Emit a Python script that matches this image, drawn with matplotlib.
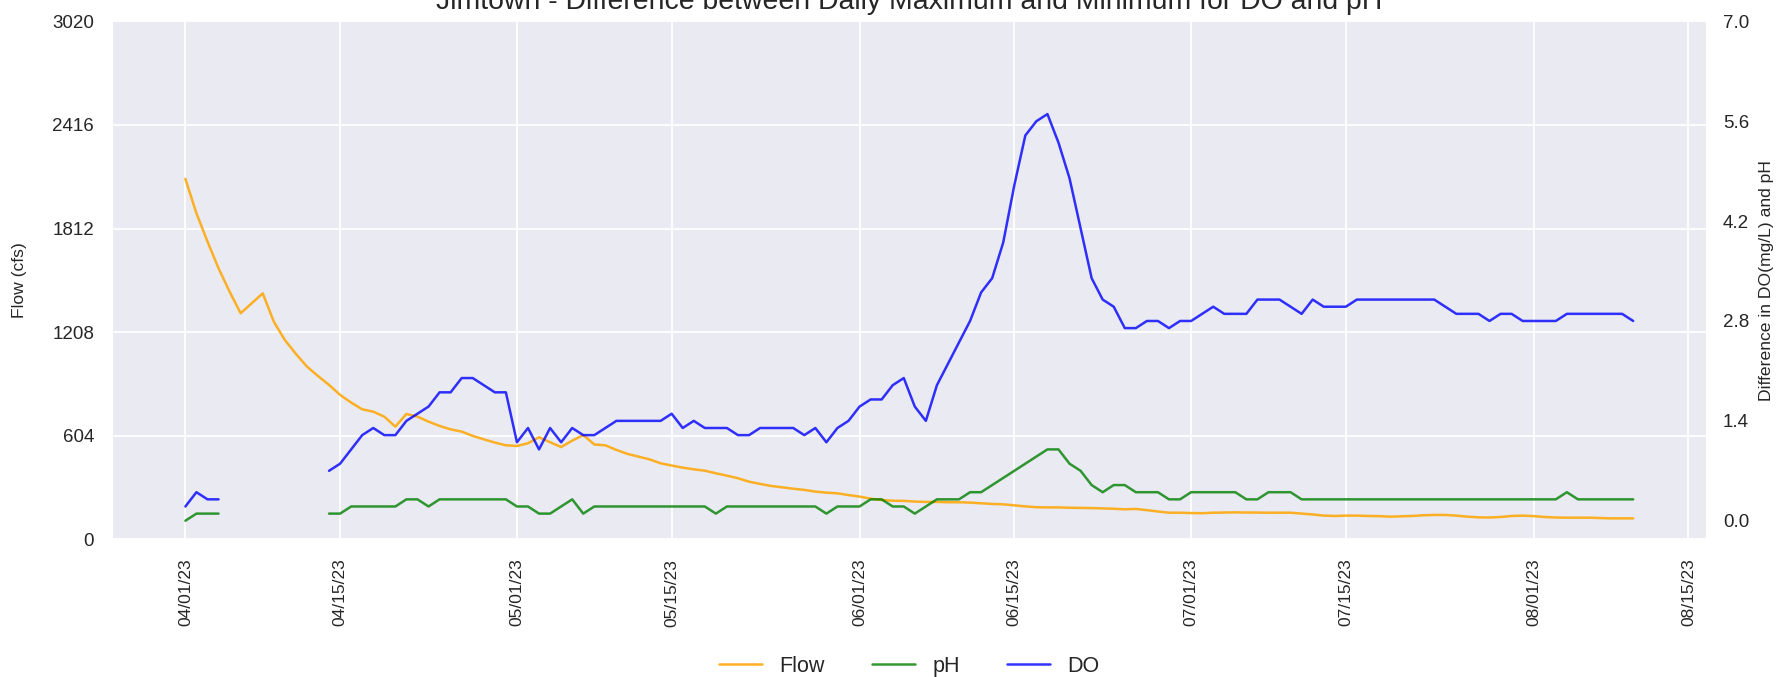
import numpy as np
import pandas as pd
import matplotlib
matplotlib.use('Agg')
import matplotlib.pyplot as plt
import matplotlib.dates as mdates

nan = np.nan

# daily values from 04/01/23
start_date = '2023-04-01'

flow = [2101, 1901, 1736, 1580, 1444, 1318, 1376, 1434, 1269, 1162,
        1081, 1007, 952, 900, 842, 797, 758, 744, 715, 657,
        731, 715, 686, 661, 641, 628, 603, 583, 564, 548,
        544, 560, 595, 566, 538, 575, 608, 553, 548, 521,
        498, 482, 466, 443, 430, 418, 408, 400, 385, 371,
        356, 336, 323, 311, 303, 295, 288, 278, 272, 268,
        258, 249, 237, 229, 225, 224, 220, 218, 218, 216,
        216, 214, 210, 206, 204, 198, 192, 187, 186, 186,
        184, 183, 182, 180, 178, 175, 177, 170, 162, 155,
        155, 153, 152, 155, 156, 157, 156, 156, 155, 155,
        155, 150, 145, 138, 136, 138, 138, 136, 135, 132,
        134, 136, 140, 142, 142, 138, 132, 128, 127, 130,
        136, 138, 135, 130, 127, 126, 126, 126, 124, 122,
        122, 122]

do_diff = [0.2, 0.4, 0.3, 0.3, nan, nan, nan, nan, nan, nan,
           nan, nan, nan, 0.7, 0.8, 1.0, 1.2, 1.3, 1.2, 1.2,
           1.4, 1.5, 1.6, 1.8, 1.8, 2.0, 2.0, 1.9, 1.8, 1.8,
           1.1, 1.3, 1.0, 1.3, 1.1, 1.3, 1.2, 1.2, 1.3, 1.4,
           1.4, 1.4, 1.4, 1.4, 1.5, 1.3, 1.4, 1.3, 1.3, 1.3,
           1.2, 1.2, 1.3, 1.3, 1.3, 1.3, 1.2, 1.3, 1.1, 1.3,
           1.4, 1.6, 1.7, 1.7, 1.9, 2.0, 1.6, 1.4, 1.9, 2.2,
           2.5, 2.8, 3.2, 3.4, 3.9, 4.7, 5.4, 5.6, 5.7, 5.3,
           4.8, 4.1, 3.4, 3.1, 3.0, 2.7, 2.7, 2.8, 2.8, 2.7,
           2.8, 2.8, 2.9, 3.0, 2.9, 2.9, 2.9, 3.1, 3.1, 3.1,
           3.0, 2.9, 3.1, 3.0, 3.0, 3.0, 3.1, 3.1, 3.1, 3.1,
           3.1, 3.1, 3.1, 3.1, 3.0, 2.9, 2.9, 2.9, 2.8, 2.9,
           2.9, 2.8, 2.8, 2.8, 2.8, 2.9, 2.9, 2.9, 2.9, 2.9,
           2.9, 2.8]

ph_diff = [0.0, 0.1, 0.1, 0.1, nan, nan, nan, nan, nan, nan,
           nan, nan, nan, 0.1, 0.1, 0.2, 0.2, 0.2, 0.2, 0.2,
           0.3, 0.3, 0.2, 0.3, 0.3, 0.3, 0.3, 0.3, 0.3, 0.3,
           0.2, 0.2, 0.1, 0.1, 0.2, 0.3, 0.1, 0.2, 0.2, 0.2,
           0.2, 0.2, 0.2, 0.2, 0.2, 0.2, 0.2, 0.2, 0.1, 0.2,
           0.2, 0.2, 0.2, 0.2, 0.2, 0.2, 0.2, 0.2, 0.1, 0.2,
           0.2, 0.2, 0.3, 0.3, 0.2, 0.2, 0.1, 0.2, 0.3, 0.3,
           0.3, 0.4, 0.4, 0.5, 0.6, 0.7, 0.8, 0.9, 1.0, 1.0,
           0.8, 0.7, 0.5, 0.4, 0.5, 0.5, 0.4, 0.4, 0.4, 0.3,
           0.3, 0.4, 0.4, 0.4, 0.4, 0.4, 0.3, 0.3, 0.4, 0.4,
           0.4, 0.3, 0.3, 0.3, 0.3, 0.3, 0.3, 0.3, 0.3, 0.3,
           0.3, 0.3, 0.3, 0.3, 0.3, 0.3, 0.3, 0.3, 0.3, 0.3,
           0.3, 0.3, 0.3, 0.3, 0.3, 0.4, 0.3, 0.3, 0.3, 0.3,
           0.3, 0.3]

dates = pd.date_range(start_date, periods=len(flow), freq='D')

plt.style.use('seaborn-v0_8-darkgrid')
plt.rcParams['font.family'] = ['Liberation Sans', 'DejaVu Sans']
plt.rcParams['grid.linewidth'] = 1.3

fig, ax = plt.subplots(figsize=(17.85, 6.77), dpi=100)
fig.subplots_adjust(left=0.0633, right=0.9555, bottom=0.2034, top=0.9685)
ax2 = ax.twinx()

l1, = ax.plot(dates, flow, color='orange', alpha=0.85, lw=1.8, label='Flow')
l2, = ax2.plot(dates, ph_diff, color='green', alpha=0.8, lw=1.8, label='pH')
l3, = ax2.plot(dates, do_diff, color='blue', alpha=0.8, lw=1.8, label='DO')

# left axis
ax.set_ylim(0, 3020)
ax.set_yticks(np.linspace(0, 3020, 6))
ax.set_yticklabels([f'{v:.0f}' for v in np.linspace(0, 3020, 6)])
ax.set_ylabel('Flow (cfs)', fontsize=12.6)
ax.yaxis.set_label_coords(-0.054, 0.5)

# right axis
ax2.set_ylim(-0.26, 7.0)
ax2.set_yticks(np.linspace(0, 7.0, 6))
ax2.set_yticklabels([f'{v:.1f}' for v in np.linspace(0, 7.0, 6)])
ax2.set_ylabel('Difference in DO(mg/L) and pH', fontsize=12.6)
ax2.yaxis.set_label_coords(1.0335, 0.5)
ax2.grid(False)

ax.xaxis.set_major_locator(mdates.DayLocator(bymonthday=[1, 15]))
ax.xaxis.set_major_formatter(mdates.DateFormatter('%m/%d/%y'))
plt.setp(ax.get_xticklabels(), rotation=90)

ax.tick_params(axis='x', labelsize=12.5, pad=14)
ax.tick_params(axis='y', labelsize=13.5, pad=13.5)
ax2.tick_params(axis='y', labelsize=13.5, pad=12.5)

ax.set_title('Jimtown - Difference between Daily Maximum and Minimum for DO and pH',
             fontsize=20.4, pad=9)

ax.legend(handles=[l1, l2, l3], loc='center', bbox_to_anchor=(0.5, -0.245),
          ncol=3, frameon=False, fontsize=15.5, handlelength=2.0, columnspacing=2.2)

plt.savefig('out.png', dpi=100)
